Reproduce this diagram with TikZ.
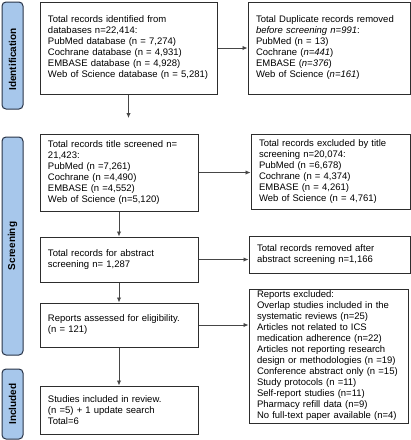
\documentclass[tikz,border=0pt]{standalone}
\usepackage{fontspec}
\setmainfont{Liberation Sans}
\usetikzlibrary{arrows.meta}
\definecolor{barfill}{RGB}{167,199,235}
\definecolor{barline}{RGB}{40,52,72}
\definecolor{boxline}{RGB}{45,45,45}
\definecolor{arrline}{RGB}{70,70,70}
\begin{document}
\begin{tikzpicture}[x=1pt,y=-1pt,
  box/.style={draw=boxline,line width=1pt,fill=white,inner xsep=8pt,inner ysep=2pt,align=left,
    font=\fontsize{9.5}{11}\selectfont},
  bar/.style={draw=barline,line width=1pt,fill=barfill,rounded corners=4pt},
  barlabel/.style={rotate=90,font=\fontsize{10}{12}\selectfont\bfseries},
  arr/.style={draw=arrline,line width=0.9pt,-{Latex[length=5pt,width=4.5pt]}}]
\useasboundingbox (0,0) rectangle (411,440);
% side bars
\draw[bar] (2,2) rectangle (23,109);
\draw[bar] (2,137) rectangle (23,355);
\draw[bar] (2,369) rectangle (23,439);
\node[barlabel] (lid) at (12.5,59.5) {Identification};
\node[barlabel] (lsc) at (12.5,246) {Screening};
\node[barlabel] (lin) at (12.5,404) {Included};
% boxes
\node[box,text width=161pt,minimum height=92pt] (b1) at (128.5,48) {Total records identified from\\databases n=22,414:\\PubMed database (n = 7,274)\\Cochrane database (n = 4,931)\\EMBASE database (n = 4,928)\\\mbox{Web of Science database (n = 5,281)}};
\node[box,text width=146pt,minimum height=92pt] (dup) at (329,48) {Total Duplicate records removed\\\textit{before screening n=991}:\\PubMed (n = 13)\\Cochrane (\textit{n=441})\\EMBASE (\textit{n=376})\\Web of Science (\textit{n=161})};
\node[box,text width=142pt,minimum height=77pt] (b2) at (119,172.5) {Total records title screened n=\\21,423:\\PubMed (n =7,261)\\Cochrane (n =4,490)\\EMBASE (n =4,552)\\Web of Science (n=5,120)};
\node[box,text width=143pt,minimum height=75pt] (ex1) at (330.5,171.5) {Total records excluded by title\\screening n=20,074:\\PubMed (n =6,678)\\Cochrane (n = 4,374)\\EMBASE (n = 4,261)\\Web of Science (n = 4,761)};
\node[box,text width=142pt,minimum height=45pt] (b3) at (119,259.5) {Total records for abstract\\screening n= 1,287};
\node[box,text width=145pt,minimum height=37pt] (rm) at (329.5,254.5) {Total records removed after\\abstract screening n=1,166};
\node[box,text width=142pt,minimum height=44pt] (b4) at (119,325) {Reports assessed for eligibility.\\(n = 121)};
\node[box,text width=143pt,minimum height=134pt] (ex2) at (328.5,356) {Reports excluded:\\Overlap studies included in the\\systematic reviews (n=25)\\Articles not related to ICS\\medication adherence (n=22)\\Articles not reporting research\\\mbox{design or methodologies (n =19)}\\\mbox{Conference abstract only (n =15)}\\Study protocols (n =11)\\Self-report studies (n=11)\\Pharmacy refill data (n=9)\\\mbox{No full-text paper available (n=4)}};
\node[box,text width=142pt,minimum height=48pt] (b5) at (119,410) {Studies included in review.\\(n =5) + 1 update search\\Total=6};
% connectors
\coordinate (c1) at (128.5,118);
\draw[arr] (b1.east) -- (dup.west);
\draw[arr] (b1.south) -- (c1);
\draw[arr] (b2.east) -- (b2.east -| ex1.west);
\draw[arr] (b2.south) -- (b3.north);
\draw[arr] (b3.east) -- (b3.east -| rm.west);
\draw[arr] (b3.south) -- (b4.north);
\draw[arr] (b4.east) -- (b4.east -| ex2.west);
\draw[arr] (b4.south) -- (b5.north);
\end{tikzpicture}
\end{document}
